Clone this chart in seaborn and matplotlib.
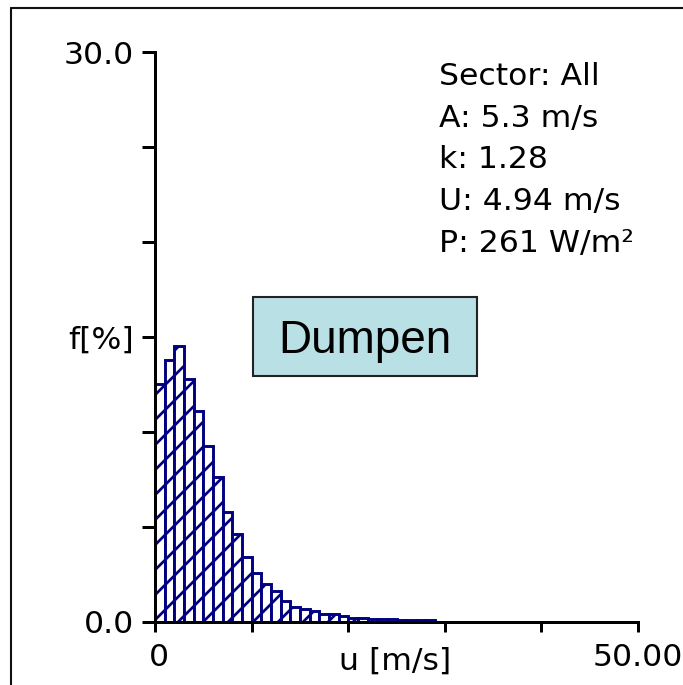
import numpy as np
import pandas as pd
import matplotlib
matplotlib.use("Agg")
import matplotlib.pyplot as plt
from matplotlib.patches import Rectangle
from matplotlib.lines import Line2D
import matplotlib.transforms as mtransforms
import seaborn as sns

# ---- data ----
speed_bin_start = list(range(0, 29))  # m/s, 1 m/s bins
freq_pct = [12.5, 13.8, 14.5, 12.8, 11.1, 9.25, 7.6, 5.8, 4.6, 3.4,
            2.55, 2.0, 1.6, 1.1, 0.8, 0.65, 0.55, 0.42, 0.38, 0.28,
            0.2, 0.18, 0.16, 0.14, 0.12, 0.11, 0.1, 0.09, 0.08]
y_tick_values = [0, 5, 10, 15, 20, 25, 30]
y_tick_labels = ["0.0", "", "", "f[%]", "", "", "30.0"]
x_tick_values = [0, 10, 20, 30, 40, 50]
x_tick_labels = ["0", "", "", "", "", "50.00"]
x_title = "u [m/s]"
info_lines = ["Sector: All", "A: 5.3 m/s", "k: 1.28", "U: 4.94 m/s", "P: 261 W/m\u00b2"]
site_name = "Dumpen"

df = pd.DataFrame({"u": [b + 0.5 for b in speed_bin_start], "f": freq_pct})
edges = [float(e) for e in range(speed_bin_start[0], speed_bin_start[-1] + 2)]

W, H, DPI = 683, 685, 150
sns.set_style("ticks")
plt.rcParams["font.family"] = ["DejaVu Sans"]
plt.rcParams["hatch.linewidth"] = 1.3
plt.rcParams["hatch.color"] = "#000080"

fig = plt.figure(figsize=(W / DPI, H / DPI), dpi=DPI, facecolor="white")
ax = fig.add_axes([155 / W, (H - 621.7) / H, 483 / W, 569.7 / H])
ax.set_facecolor("white")

sns.histplot(data=df, x="u", weights="f", bins=edges, ax=ax, stat="count",
             fill=True, facecolor="white", edgecolor="#000080", alpha=1,
             linewidth=1.4, hatch="//")

ax.set_xlim(0, 50)
ax.set_ylim(0, 30)
ax.set_xlabel("")
ax.set_ylabel("")
ax.set_xticks(x_tick_values)
ax.set_xticklabels(x_tick_labels)
ax.set_yticks(y_tick_values)
ax.set_yticklabels(y_tick_labels)

for s in ["top", "right"]:
    ax.spines[s].set_visible(False)
for s in ["left", "bottom"]:
    ax.spines[s].set_linewidth(1.44)
    ax.spines[s].set_color("black")

fs = 15.1
ax.tick_params(axis="y", direction="out", length=6.2, width=1.44, pad=4,
               labelsize=fs, colors="black")
ax.tick_params(axis="x", direction="out", length=4.8, width=1.44, pad=5.5,
               labelsize=fs, colors="black")
# nudge the "0" label slightly right as in the reference
lab0 = ax.get_xticklabels()[0]
lab0.set_transform(lab0.get_transform() +
                   mtransforms.ScaledTranslation(4 / DPI, 0, fig.dpi_scale_trans))

# x axis title placed on the tick-label row
fig.text(395 / W, (H - 670) / H, x_title, ha="center", va="baseline",
         fontsize=fs, color="black")

# info block
baselines = [85, 126.7, 168.3, 210, 251.7]
for line, yb in zip(info_lines, baselines):
    fig.text(439 / W, (H - yb) / H, line, ha="left", va="baseline",
             fontsize=fs, color="black")

# site box
fig.add_artist(Rectangle((253.3 / W, (H - 375.7) / H), 223.4 / W, 79 / H,
                         transform=fig.transFigure, facecolor="#b9e0e5",
                         edgecolor="#222222", linewidth=1.0))
fig.text(365 / W, (H - 353.3) / H, site_name, ha="center", va="baseline",
         fontsize=22, family=["Liberation Sans", "DejaVu Sans"], color="black")

# outer frame (top and left)
fig.add_artist(Line2D([11 / W, 1.0], [(H - 8) / H, (H - 8) / H],
                      transform=fig.transFigure, color="#111111", linewidth=1.0))
fig.add_artist(Line2D([11 / W, 11 / W], [0.0, (H - 8) / H],
                      transform=fig.transFigure, color="#111111", linewidth=1.0))

fig.savefig("out.png", dpi=DPI, facecolor="white")
